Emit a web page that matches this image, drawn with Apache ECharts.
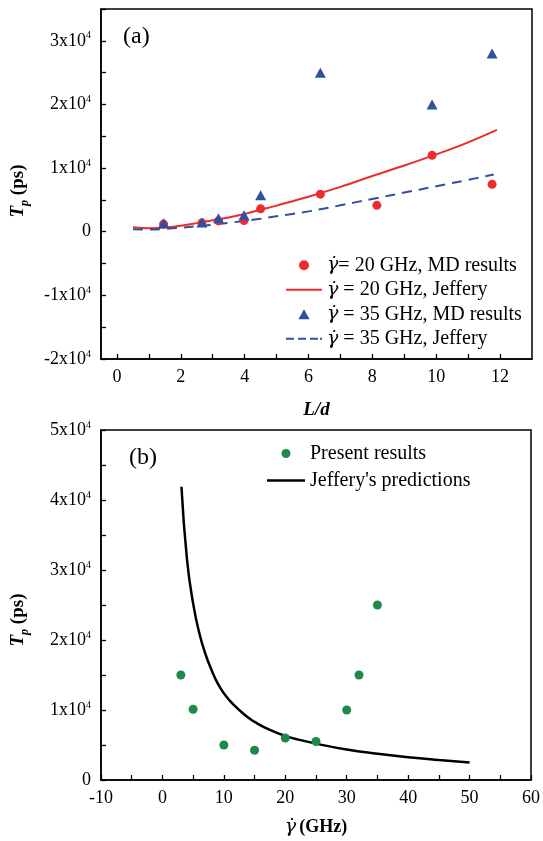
<!DOCTYPE html>
<html>
<head>
<meta charset="utf-8">
<script src="https://cdn.jsdelivr.net/npm/echarts@6/dist/echarts.min.js"></script>
<style>
  html, body { margin: 0; padding: 0; background: #fff; }
  #chart { width: 543px; height: 841px; }
</style>
</head>
<body>
<div id="chart"></div>
<script>
// panel (a): T_p vs L/d
var md20 = [[1.46, 1200], [2.66, 1400], [3.18, 1700], [3.98, 1750], [4.5, 3600],
            [6.37, 5900], [8.14, 4150], [9.87, 12000], [11.75, 7450]];
var md35 = [[1.46, 1350], [2.66, 1450], [3.18, 2100], [3.98, 2600], [4.5, 5750],
            [6.37, 25000], [9.87, 20000], [11.75, 28000]];
var jeff20 = [[0.5, 700], [1, 530], [1.5, 650], [2, 950], [2.5, 1350], [3, 1800], [3.5, 2250],
              [4, 2800], [4.5, 3450], [5, 4100], [5.5, 4800], [6, 5500], [7, 7050], [8, 8750],
              [9, 10400], [10, 12150], [11, 14050], [11.9, 16000]];
var jeff35 = [[0.5, 380], [1, 350], [1.5, 450], [2, 620], [2.5, 850], [3, 1100], [3.5, 1400],
              [4, 1700], [4.5, 2050], [5, 2450], [5.5, 2800], [6, 3200], [6.5, 3650], [7, 4150],
              [8, 5150], [9, 6150], [10, 7150], [11, 8150], [11.8, 9000]];

// panel (b): T_p vs shear rate
var present = [[3, 15000], [5, 10100], [10, 5000], [15, 4250], [20, 6000],
               [25, 5500], [30, 10000], [32, 15000], [35, 25000]];
var jefferyB = [[3.1, 41900], [4, 31500], [5, 25200], [6, 21000], [7, 18000], [8, 15700],
                [9, 13800], [10, 12400], [11, 11300], [12, 10400], [13, 9600], [14, 8900],
                [15, 8300], [17.5, 7150], [20, 6300], [22.5, 5700], [25, 5200], [30, 4350],
                [35, 3750], [40, 3250], [45, 2850], [50, 2500]];

// tick positions
var ticksA = [0, 1, 2, 3, 4, 5, 6, 7, 8, 9, 10, 11, 12];
var labelsA = [0, 2, 4, 6, 8, 10, 12];

var names = ['\u03b3\u0307= 20 GHz, MD results', '\u03b3\u0307 = 20 GHz, Jeffery',
             '\u03b3\u0307 = 35 GHz, MD results', '\u03b3\u0307 = 35 GHz, Jeffery'];
var namesB = ['Present results', "Jeffery's predictions"];

var serif = 'Liberation Serif, Times New Roman, serif';
var gfont = 'DejaVu Serif, serif';
var RED = '#ef2c2c', BLUE = '#2f4f9f', GREEN = '#1e8a48';

var lineIcon = 'path://M0,0h36v2h-36z';
var dashIcon = 'path://M0,0h8v2h-8zM12,0h8v2h-8zM24,0h8v2h-8zM34,0h2v2h-2z';
var triIcon = 'path://M5,0L10,9L0,9z';

var sciLabel = function (v) {
    if (v % 10000 !== 0) return '';
    if (v === 0) return '{n|0}';
    return '{n|' + (v / 10000) + 'x10}{s|4}';
};
var sciRich = {
    n: {fontFamily: serif, fontSize: 18, color: '#000', lineHeight: 20},
    s: {fontFamily: serif, fontSize: 10, color: '#000', lineHeight: 10, verticalAlign: 'top'}
};
var tpName = '{t|T}{p|p}{b| (ps)}';
var tpRich = {
    t: {fontFamily: serif, fontSize: 19, fontWeight: 'bold', fontStyle: 'italic', color: '#000', lineHeight: 26},
    p: {fontFamily: serif, fontSize: 12, fontWeight: 'bold', fontStyle: 'italic', color: '#000', lineHeight: 12, verticalAlign: 'bottom'},
    b: {fontFamily: serif, fontSize: 19, fontWeight: 'bold', color: '#000', lineHeight: 26}
};

var axisLine = {onZero: false, lineStyle: {color: '#000', width: 1.5}};
var axisTick = {inside: true, length: 5, lineStyle: {color: '#000', width: 1.3}};

var chart = echarts.init(document.getElementById('chart'));
chart.setOption({
    animation: false,
    backgroundColor: '#fff',
    grid: [
        {left: 101, right: 11, top: 9, height: 350, show: true, borderColor: '#000', borderWidth: 1.5},
        {left: 101, right: 11, top: 430, height: 350, show: true, borderColor: '#000', borderWidth: 1.5}
    ],
    xAxis: [{
        gridIndex: 0, type: 'value', min: -0.5, max: 13,
        axisLine: axisLine, splitLine: {show: false},
        axisTick: {inside: true, length: 5, customValues: ticksA, lineStyle: {color: '#000', width: 1.3}},
        axisLabel: {margin: 9, fontFamily: serif, fontSize: 18, color: '#000', customValues: labelsA},
        name: 'L/d', nameLocation: 'middle', nameGap: 42,
        nameTextStyle: {fontFamily: serif, fontSize: 19, fontWeight: 'bold', fontStyle: 'italic', color: '#000'}
    }, {
        gridIndex: 1, type: 'value', min: -10, max: 60, interval: 5,
        axisLine: axisLine, axisTick: axisTick, splitLine: {show: false},
        axisLabel: {
            margin: 9, fontFamily: serif, fontSize: 18, color: '#000',
            formatter: function (v) { return (v % 10 === 0) ? String(v) : ''; }
        },
        name: '{g|\u03b3\u0307} {b|(GHz)}', nameLocation: 'middle', nameGap: 38,
        nameTextStyle: {
            rich: {
                g: {fontFamily: gfont, fontSize: 19, fontStyle: 'italic', color: '#000'},
                b: {fontFamily: serif, fontSize: 18, fontWeight: 'bold', color: '#000'}
            }
        }
    }],
    yAxis: [{
        gridIndex: 0, type: 'value', min: -20000, max: 35000, interval: 5000,
        axisLine: axisLine, axisTick: axisTick, splitLine: {show: false},
        axisLabel: {margin: 10, formatter: sciLabel, rich: sciRich},
        name: tpName, nameLocation: 'middle', nameGap: 70, nameRotate: 90,
        nameTextStyle: {rich: tpRich, padding: [0, 14, 0, 0]}
    }, {
        gridIndex: 1, type: 'value', min: 0, max: 50000, interval: 5000,
        axisLine: axisLine, axisTick: axisTick, splitLine: {show: false},
        axisLabel: {margin: 10, formatter: sciLabel, rich: sciRich},
        name: tpName, nameLocation: 'middle', nameGap: 70, nameRotate: 90,
        nameTextStyle: {rich: tpRich, padding: [0, 30, 0, 0]}
    }],
    legend: [{
        data: [
            {name: names[0], icon: 'circle'},
            {name: names[1], icon: lineIcon},
            {name: names[2], icon: triIcon},
            {name: names[3], icon: dashIcon}
        ],
        orient: 'vertical', left: 281, top: 248,
        itemWidth: 36, itemHeight: 10, itemGap: 0, symbolKeepAspect: true,
        textStyle: {fontFamily: serif, fontSize: 20, color: '#000', lineHeight: 24.5,
            rich: {g: {fontFamily: gfont, fontSize: 19, fontStyle: 'italic', color: '#000', lineHeight: 24.5}}},
        formatter: function (n) { return '{g|' + n.slice(0, 2) + '}' + n.slice(2); }
    }, {
        data: [
            {name: namesB[0], icon: 'circle'},
            {name: namesB[1], icon: 'path://M0,0h38v2.5h-38z'}
        ],
        orient: 'vertical', left: 262, top: 435,
        itemWidth: 38, itemHeight: 9, itemGap: 0, symbolKeepAspect: true,
        textStyle: {fontFamily: serif, fontSize: 20, color: '#000', lineHeight: 27}
    }],
    graphic: [
        {type: 'text', left: 123, top: 25, style: {text: '(a)', font: '24px ' + serif, fill: '#000'}},
        {type: 'text', left: 129, top: 446, style: {text: '(b)', font: '24px ' + serif, fill: '#000'}}
    ],
    series: [{
        name: names[0], type: 'scatter', xAxisIndex: 0, yAxisIndex: 0,
        symbol: 'circle', symbolSize: 9, itemStyle: {color: RED, opacity: 1}, data: md20, z: 3
    }, {
        name: names[1], type: 'line', xAxisIndex: 0, yAxisIndex: 0, smooth: 0.4,
        symbol: 'none', showSymbol: false, itemStyle: {color: RED},
        lineStyle: {color: RED, width: 2}, data: jeff20, z: 2
    }, {
        name: names[2], type: 'scatter', xAxisIndex: 0, yAxisIndex: 0,
        symbol: 'triangle', symbolSize: [11, 10], itemStyle: {color: BLUE, opacity: 1}, data: md35, z: 4
    }, {
        name: names[3], type: 'line', xAxisIndex: 0, yAxisIndex: 0, smooth: 0.4,
        symbol: 'none', showSymbol: false, itemStyle: {color: BLUE},
        lineStyle: {color: BLUE, width: 2, type: [10, 7]}, data: jeff35, z: 2
    }, {
        name: namesB[0], type: 'scatter', xAxisIndex: 1, yAxisIndex: 1,
        symbol: 'circle', symbolSize: 9, itemStyle: {color: GREEN, opacity: 1}, data: present, z: 3
    }, {
        name: namesB[1], type: 'line', xAxisIndex: 1, yAxisIndex: 1, smooth: 0.5,
        symbol: 'none', showSymbol: false, itemStyle: {color: '#000'},
        lineStyle: {color: '#000', width: 2.5}, data: jefferyB, z: 2
    }]
});
</script>
</body>
</html>
